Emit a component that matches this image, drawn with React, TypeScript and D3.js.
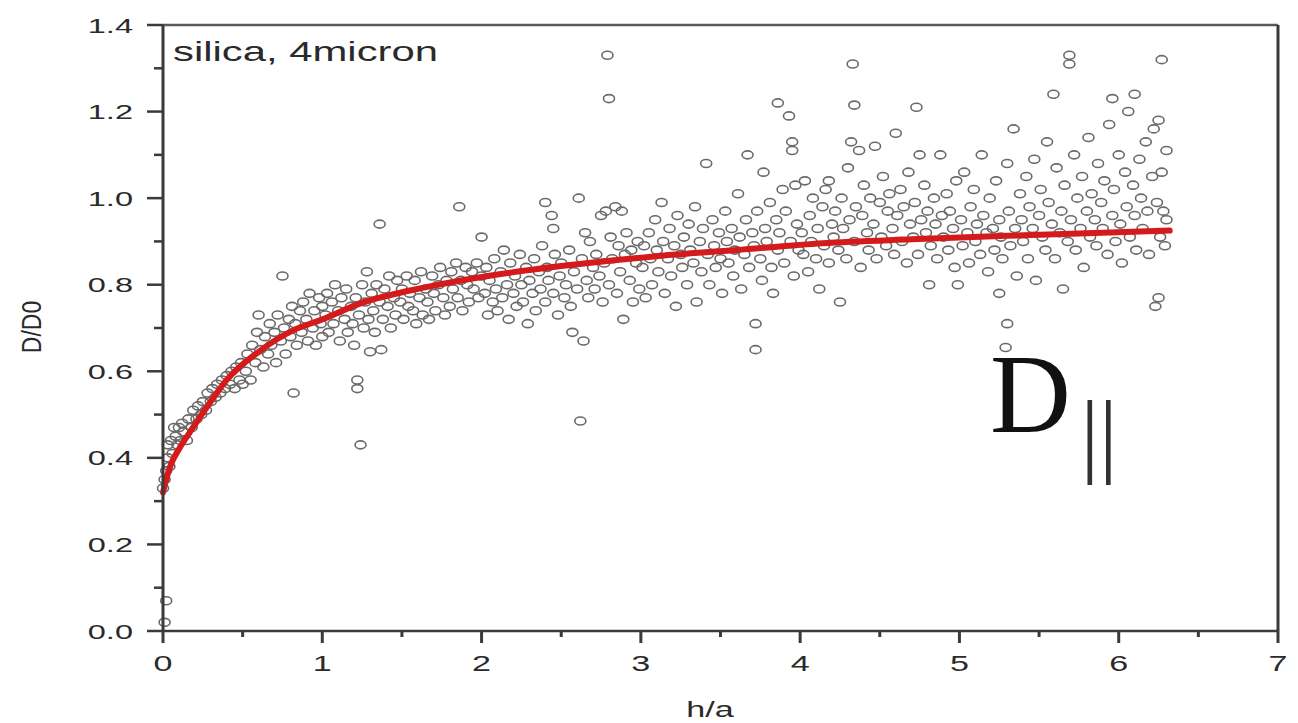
import React from "react";
import * as d3 from "d3";

// ---------- data ----------
const xTicks = [0, 1, 2, 3, 4, 5, 6, 7];
const yTicks = [0.0, 0.2, 0.4, 0.6, 0.8, 1.0, 1.2, 1.4];
const xMinor = [0.5, 1.5, 2.5, 3.5, 4.5, 5.5, 6.5];
const yMinor = [0.1, 0.3, 0.5, 0.7, 0.9, 1.1, 1.3];

const bandA: [number, number][] = [
  [0.01,0.02],[0.02,0.07],[0.00,0.33],[0.01,0.35],[0.02,0.37],[0.03,0.40],[0.03,0.43],[0.04,0.38],[0.05,0.44],[0.06,0.41],
  [0.07,0.47],[0.08,0.45],[0.09,0.43],[0.10,0.47],[0.11,0.44],[0.12,0.48],[0.13,0.46],[0.15,0.44],[0.16,0.49],[0.18,0.47],
  [0.19,0.51],[0.21,0.49],[0.22,0.52],[0.24,0.50],[0.25,0.53],[0.27,0.51],[0.28,0.55],[0.30,0.53],[0.31,0.56],[0.33,0.54],
  [0.34,0.57],[0.36,0.55],[0.37,0.58],[0.39,0.56],[0.40,0.59],[0.42,0.57],[0.43,0.60],[0.45,0.56],[0.46,0.61],[0.48,0.58],
  [0.49,0.62],[0.50,0.57],
];
const bandB: [number, number][] = [
  [0.52,0.60],[0.53,0.64],[0.55,0.58],[0.56,0.66],[0.58,0.62],[0.59,0.69],[0.60,0.73],[0.61,0.65],[0.63,0.61],[0.64,0.68],
  [0.66,0.64],[0.67,0.71],[0.68,0.66],[0.70,0.69],[0.71,0.62],[0.72,0.73],[0.74,0.67],[0.75,0.82],[0.76,0.70],[0.77,0.64],
  [0.79,0.72],[0.80,0.68],[0.81,0.75],[0.82,0.55],[0.83,0.71],[0.84,0.66],[0.86,0.74],[0.87,0.69],[0.88,0.76],[0.90,0.72],
  [0.91,0.67],[0.92,0.78],[0.94,0.70],[0.95,0.74],[0.96,0.66],[0.98,0.77],[0.99,0.71],[1.00,0.75],[1.00,0.68],
];
const bandC: [number, number][] = [
  [1.02,0.73],[1.03,0.78],[1.04,0.69],[1.06,0.76],[1.07,0.71],[1.08,0.80],[1.10,0.74],[1.11,0.67],[1.12,0.77],[1.14,0.72],
  [1.15,0.79],[1.16,0.69],[1.18,0.75],[1.19,0.71],[1.20,0.66],[1.21,0.77],[1.22,0.58],[1.22,0.56],[1.23,0.73],[1.24,0.43],
  [1.25,0.80],[1.26,0.70],[1.27,0.76],[1.28,0.83],[1.29,0.72],[1.30,0.645],[1.31,0.78],[1.32,0.74],[1.33,0.69],[1.34,0.80],
  [1.36,0.94],[1.36,0.76],[1.37,0.65],[1.38,0.72],[1.39,0.79],[1.41,0.75],[1.42,0.82],[1.43,0.70],[1.45,0.77],[1.46,0.73],
  [1.47,0.81],[1.49,0.76],[1.50,0.79],[1.51,0.72],[1.53,0.82],[1.54,0.75],[1.55,0.78],[1.57,0.74],[1.58,0.81],[1.59,0.71],
  [1.61,0.77],[1.62,0.83],[1.63,0.73],[1.65,0.79],[1.66,0.76],[1.67,0.72],[1.69,0.82],[1.70,0.78],[1.71,0.74],[1.73,0.80],
  [1.74,0.84],[1.76,0.77],[1.77,0.73],[1.78,0.81],[1.80,0.75],[1.81,0.83],[1.82,0.79],[1.84,0.85],[1.85,0.77],[1.86,0.98],
  [1.87,0.81],[1.88,0.74],[1.90,0.84],[1.91,0.80],[1.92,0.76],[1.94,0.83],[1.95,0.79],[1.97,0.85],[1.98,0.77],[2.00,0.91],
  [2.00,0.82],
];
const bandD: [number, number][] = [
  [2.02,0.78],[2.03,0.84],[2.04,0.73],[2.05,0.81],[2.07,0.76],[2.08,0.86],[2.09,0.79],[2.10,0.74],[2.12,0.83],[2.13,0.77],
  [2.14,0.88],[2.16,0.80],[2.17,0.72],[2.18,0.85],[2.20,0.78],[2.21,0.82],[2.22,0.75],[2.24,0.87],[2.25,0.80],[2.26,0.76],
  [2.28,0.84],[2.29,0.71],[2.30,0.81],[2.32,0.78],[2.33,0.86],[2.34,0.74],[2.36,0.83],[2.37,0.79],[2.38,0.89],[2.40,0.99],
  [2.40,0.76],[2.41,0.84],[2.42,0.81],[2.44,0.96],[2.45,0.93],[2.45,0.78],[2.46,0.87],[2.48,0.73],[2.49,0.82],[2.50,0.85],
  [2.52,0.77],[2.53,0.80],[2.55,0.88],[2.56,0.75],[2.57,0.69],[2.58,0.83],[2.60,0.79],[2.61,1.00],[2.62,0.485],[2.63,0.86],
  [2.64,0.67],[2.65,0.92],[2.66,0.81],[2.67,0.77],[2.68,0.90],[2.70,0.84],[2.71,0.79],[2.72,0.87],[2.74,0.82],[2.75,0.96],
  [2.76,0.76],[2.77,0.85],[2.78,0.97],[2.79,1.33],[2.80,1.23],[2.80,0.80],[2.81,0.91],[2.82,0.86],[2.84,0.98],[2.85,0.78],
  [2.86,0.89],[2.87,0.83],[2.88,0.97],[2.89,0.72],[2.90,0.87],[2.91,0.92],[2.93,0.81],[2.94,0.88],[2.95,0.76],[2.97,0.85],
  [2.98,0.90],[2.99,0.79],
];
const bandE: [number, number][] = [
  [3.01,0.84],[3.02,0.89],[3.03,0.77],[3.05,0.92],[3.06,0.86],[3.07,0.80],[3.09,0.95],[3.10,0.88],[3.11,0.83],[3.13,0.99],
  [3.14,0.90],[3.15,0.78],[3.17,0.86],[3.18,0.93],[3.19,0.82],[3.21,0.89],[3.22,0.75],[3.23,0.96],[3.25,0.87],[3.26,0.84],
  [3.27,0.91],[3.29,0.80],[3.30,0.94],[3.31,0.88],[3.33,0.85],[3.34,0.98],[3.35,0.76],[3.37,0.90],[3.38,0.83],[3.39,0.93],
  [3.41,1.08],[3.42,0.87],[3.43,0.80],[3.45,0.95],[3.46,0.89],[3.47,0.84],[3.49,0.92],[3.50,0.86],[3.51,0.78],[3.53,0.97],
  [3.54,0.90],[3.55,0.85],[3.57,0.93],[3.58,0.82],[3.59,0.88],[3.61,1.01],[3.62,0.91],[3.63,0.79],[3.65,0.87],[3.66,0.95],
  [3.67,1.10],[3.68,0.84],[3.70,0.92],[3.71,0.89],[3.72,0.71],[3.72,0.65],[3.73,0.97],[3.75,0.86],[3.76,0.81],[3.77,1.06],
  [3.78,0.93],[3.79,0.90],[3.81,0.99],[3.82,0.84],[3.83,0.78],[3.85,0.95],[3.86,1.22],[3.86,0.88],[3.87,0.92],[3.89,1.02],
  [3.90,0.85],[3.91,0.97],[3.93,1.19],[3.94,0.90],[3.95,1.13],[3.95,1.11],[3.96,0.82],[3.97,1.03],[3.98,0.94],[3.99,0.88],
];
const bandF: [number, number][] = [
  [4.01,0.92],[4.02,0.87],[4.03,1.04],[4.05,0.83],[4.06,0.96],[4.07,0.90],[4.08,1.00],[4.10,0.86],[4.11,0.93],[4.12,0.79],
  [4.14,0.98],[4.15,0.89],[4.16,1.02],[4.18,1.04],[4.18,0.85],[4.20,0.94],[4.21,0.91],[4.22,0.97],[4.24,0.88],[4.25,0.76],
  [4.26,1.00],[4.27,0.93],[4.29,0.86],[4.30,1.07],[4.31,0.95],[4.32,1.13],[4.33,1.31],[4.34,1.215],[4.34,0.90],[4.35,0.98],
  [4.37,1.11],[4.38,0.84],[4.39,0.96],[4.40,1.03],[4.42,0.92],[4.43,0.88],[4.44,1.00],[4.46,0.94],[4.47,1.12],[4.48,0.86],
  [4.50,0.99],[4.51,0.91],[4.52,1.05],[4.54,0.89],[4.55,0.97],[4.56,1.01],[4.58,0.93],[4.59,0.87],[4.60,1.15],[4.61,0.96],
  [4.63,1.02],[4.64,0.90],[4.65,0.98],[4.67,0.85],[4.68,1.06],[4.69,0.94],[4.71,0.91],[4.72,0.99],[4.73,1.21],[4.74,0.87],
  [4.75,1.10],[4.76,0.95],[4.78,1.03],[4.79,0.92],[4.80,0.97],[4.81,0.80],[4.82,0.89],[4.84,1.00],[4.85,0.94],[4.86,0.86],
  [4.88,1.10],[4.89,0.96],[4.90,0.91],[4.92,1.01],[4.93,0.88],[4.94,0.97],[4.96,0.93],[4.97,0.84],[4.98,1.04],[4.99,0.80],
];
const bandG: [number, number][] = [
  [5.01,0.95],[5.02,0.89],[5.03,1.06],[5.05,0.92],[5.06,0.85],[5.07,0.98],[5.09,1.02],[5.10,0.90],[5.11,0.94],[5.13,0.87],
  [5.14,1.10],[5.15,0.96],[5.17,0.92],[5.18,0.83],[5.19,1.00],[5.21,0.93],[5.22,0.88],[5.23,1.04],[5.25,0.78],[5.25,0.95],
  [5.26,0.91],[5.27,0.86],[5.29,0.655],[5.30,0.71],[5.30,1.08],[5.31,0.97],[5.32,0.89],[5.34,1.16],[5.35,0.93],[5.36,0.82],
  [5.38,1.01],[5.39,0.95],[5.40,0.90],[5.42,1.05],[5.43,0.86],[5.44,0.98],[5.46,0.93],[5.47,1.09],[5.48,0.81],[5.50,0.96],
  [5.51,1.02],[5.52,0.91],[5.54,0.88],[5.55,1.13],[5.56,0.99],[5.58,0.94],[5.59,1.24],[5.60,0.86],[5.61,1.07],[5.63,0.92],
  [5.64,0.97],[5.65,0.79],[5.66,1.03],[5.68,0.90],[5.69,1.33],[5.69,1.31],[5.70,0.95],[5.72,1.10],[5.73,0.88],[5.74,1.00],
  [5.76,0.93],[5.77,1.05],[5.78,0.84],[5.80,0.97],[5.81,1.14],[5.82,0.91],[5.83,1.01],[5.85,0.95],[5.86,0.89],[5.87,1.08],
  [5.89,0.99],[5.90,0.93],[5.91,1.04],[5.93,0.87],[5.94,1.17],[5.96,1.23],[5.96,0.96],[5.97,1.02],[5.98,0.90],[6.00,1.10],
  [6.01,0.94],[6.02,0.85],[6.04,1.06],[6.05,0.98],[6.06,1.20],[6.07,0.91],[6.09,1.03],[6.10,1.24],[6.10,0.96],[6.11,0.88],
  [6.13,1.09],[6.14,1.00],[6.15,0.93],[6.17,1.13],[6.18,0.97],[6.19,0.87],[6.21,1.05],[6.22,1.16],[6.23,0.75],[6.24,0.99],
  [6.25,0.77],[6.25,1.18],[6.26,0.91],[6.27,1.32],[6.27,1.06],[6.28,0.97],[6.29,0.89],[6.30,1.11],[6.30,0.95],
];

const fitX = [0.0, 0.02, 0.05, 0.10, 0.17, 0.30, 0.40, 0.60, 0.82, 1.00, 1.24, 1.66, 2.07, 2.50, 3.10, 3.60, 4.14, 4.70, 5.30, 5.80, 6.32];
const fitY = [0.32, 0.35, 0.385, 0.42, 0.46, 0.53, 0.58, 0.645, 0.695, 0.72, 0.757, 0.795, 0.822, 0.843, 0.866, 0.88, 0.896, 0.905, 0.913, 0.919, 0.925];

const xLabel = "h/a";
const yLabel = "D/D0";
const sampleLabel = "silica, 4micron";
const bigSymbol = "D";
const bigSubscript = "||";

// ---------- layout ----------
const W = 1298, H = 723;
const SX = 1.55; // horizontal stretch of text in the original picture
const FONT = "'Liberation Sans', Arial, sans-serif";
const SERIF = "'Liberation Serif', 'Times New Roman', serif";

function SText(props: { x: number; y: number; size: number; anchor?: string; children: React.ReactNode; fill?: string }) {
  const { x, y, size, anchor = "start", children, fill = "#2a2a2a" } = props;
  return (
    <text transform={`translate(${x},${y}) scale(${SX},1)`} fontSize={size} fontFamily={FONT} textAnchor={anchor} fill={fill}>
      {children}
    </text>
  );
}

export default function App() {
  const x = d3.scaleLinear().domain([0, 7]).range([163, 1278]);
  const y = d3.scaleLinear().domain([0, 1.4]).range([631, 25]);
  const points = [...bandA, ...bandB, ...bandC, ...bandD, ...bandE, ...bandF, ...bandG];
  const fit = fitX.map((v, i) => [v, fitY[i]] as [number, number]);
  const line = d3.line<[number, number]>().x((d) => x(d[0])).y((d) => y(d[1])).curve(d3.curveMonotoneX);
  const axisColor = "#3a3a3a";
  const [x0, x1] = x.range();
  const [yb, yt] = y.range();

  return (
    <svg width={W} height={H} style={{ position: "fixed", left: 0, top: 0, background: "#fff" }}>
      <rect x={0} y={0} width={W} height={H} fill="#fff" />
      {/* points */}
      <g fill="none" stroke="#6a6a6a" strokeWidth={1.6}>
        {points.map((p, i) => (
          <ellipse key={i} cx={x(p[0])} cy={y(p[1])} rx={5.5} ry={4} />
        ))}
      </g>
      {/* fit curve */}
      <path d={line(fit) || ""} fill="none" stroke="#d41a1a" strokeWidth={6} strokeLinecap="round" />

      {/* frame */}
      <line x1={x0} x2={x1} y1={yt} y2={yt} stroke="#5a5a5a" strokeWidth={2.5} />
      <line x1={x1} x2={x1} y1={yt} y2={yb} stroke={axisColor} strokeWidth={3} />
      <line x1={x0} x2={x0} y1={yt} y2={yb} stroke={axisColor} strokeWidth={3} />
      <line x1={x0} x2={x1} y1={yb} y2={yb} stroke={axisColor} strokeWidth={2.5} />

      {/* y ticks */}
      {yTicks.map((t) => (
        <g key={"yt" + t}>
          <line x1={x0 - 16} x2={x0} y1={y(t)} y2={y(t)} stroke={axisColor} strokeWidth={2.5} />
          <SText x={133} y={y(t) + 7.5} size={21} anchor="end">{t.toFixed(1)}</SText>
        </g>
      ))}
      {yMinor.map((t) => (
        <line key={"ym" + t} x1={x0 - 9} x2={x0} y1={y(t)} y2={y(t)} stroke={axisColor} strokeWidth={2.5} />
      ))}
      {/* x ticks */}
      {xTicks.map((t) => (
        <g key={"xt" + t}>
          <line x1={x(t)} x2={x(t)} y1={yb} y2={yb + 12} stroke={axisColor} strokeWidth={3} />
          <SText x={x(t)} y={671} size={22} anchor="middle">{String(t)}</SText>
        </g>
      ))}
      {xMinor.map((t) => (
        <line key={"xm" + t} x1={x(t)} x2={x(t)} y1={yb} y2={yb + 6} stroke={axisColor} strokeWidth={3} />
      ))}

      {/* axis titles */}
      <SText x={710} y={717} size={22} anchor="middle">{xLabel}</SText>
      <text transform="translate(41,327) scale(1.2,1) rotate(-90)" fontSize={23} fontFamily={FONT} textAnchor="middle" fill="#2a2a2a">
        {yLabel}
      </text>

      {/* sample label */}
      <SText x={173} y={61} size={27}>{sampleLabel}</SText>

      {/* D parallel */}
      <text x={990} y={432} fontSize={112} fontFamily={SERIF} fill="#111">{bigSymbol}</text>
      <text x={1099} y={465} fontSize={93} fontFamily={SERIF} textAnchor="middle" fill="#333">{bigSubscript}</text>
    </svg>
  );
}
